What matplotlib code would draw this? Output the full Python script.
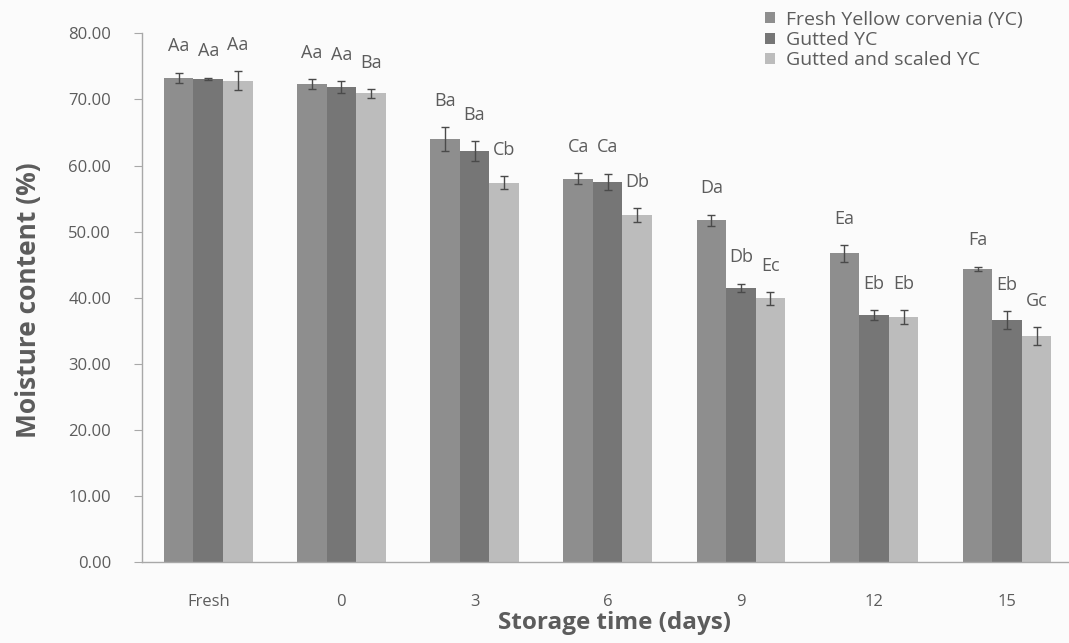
import matplotlib
matplotlib.use("Agg")
import matplotlib.pyplot as plt
import numpy as np

plt.rcParams['font.family'] = ['Open Sans', 'DejaVu Sans']

# storage time categories
days = ['Fresh', '0', '3', '6', '9', '12', '15']
series = ['Fresh Yellow corvenia (YC)', 'Gutted YC', 'Gutted and scaled YC']

# moisture content (%) and standard deviations
fresh_yc = [73.3, 72.3, 64.0, 58.0, 51.7, 46.7, 44.4]
gutted_yc = [73.1, 71.9, 62.2, 57.5, 41.5, 37.4, 36.6]
scaled_yc = [72.8, 70.9, 57.4, 52.5, 39.9, 37.1, 34.2]

fresh_sd = [0.76, 0.76, 1.76, 0.86, 0.88, 1.24, 0.30]
gutted_sd = [0.20, 0.86, 1.46, 1.26, 0.63, 0.76, 1.33]
scaled_sd = [1.44, 0.68, 0.98, 1.06, 0.94, 1.01, 1.33]

# significance letters
fresh_lbl = ['Aa', 'Aa', 'Ba', 'Ca', 'Da', 'Ea', 'Fa']
gutted_lbl = ['Aa', 'Aa', 'Ba', 'Ca', 'Db', 'Eb', 'Eb']
scaled_lbl = ['Aa', 'Ba', 'Cb', 'Db', 'Ec', 'Eb', 'Gc']

W, H = 1069, 643
fig = plt.figure(figsize=(W / 100, H / 100), dpi=100, facecolor='#fbfbfb')
ax = fig.add_axes([141.7 / W, (H - 562.3) / H, 932 / W, 529 / H])
ax.set_facecolor('#fbfbfb')

colors = ['#8e8e8e', '#767676', '#bcbcbc']
text_c = '#5c5c5c'
x = np.arange(len(days))
bw = 0.222

vals = [fresh_yc, gutted_yc, scaled_yc]
sds = [fresh_sd, gutted_sd, scaled_sd]
lbls = [fresh_lbl, gutted_lbl, scaled_lbl]

for i in range(3):
    xs = x + (i - 1) * bw
    ax.bar(xs, vals[i], bw, color=colors[i], label=series[i], zorder=2)
    ax.errorbar(xs, vals[i], yerr=sds[i], fmt='none', ecolor='#4a4a4a',
                elinewidth=1, capsize=3, capthick=1, zorder=3)
    for xi, v, s, t in zip(xs, vals[i], sds[i], lbls[i]):
        ax.annotate(t, (xi, v + s), xytext=(0, 19), textcoords='offset points',
                    ha='center', va='center', fontsize=13, color=text_c)

ax.set_xlim(-0.5, 6.5)
ax.set_ylim(0, 80)
ax.set_yticks(np.arange(0, 81, 10))
ax.set_yticklabels([f'{t:.2f}' for t in range(0, 81, 10)])
ax.set_xticks(x)
ax.set_xticklabels(days)

for s in ['top', 'right']:
    ax.spines[s].set_visible(False)
for s in ['left', 'bottom']:
    ax.spines[s].set_color('#a8a8a8')
    ax.spines[s].set_linewidth(1)

ax.tick_params(axis='y', length=6, color='#a8a8a8', labelsize=12,
               labelcolor=text_c, pad=16)
ax.tick_params(axis='x', length=0, labelsize=12, labelcolor=text_c, pad=23)

ax.set_ylabel('Moisture content (%)', fontsize=19, fontweight='bold',
              color=text_c)
ax.yaxis.set_label_coords(-0.107, 0.496)
ax.set_xlabel('Storage time (days)', fontsize=17.5, fontweight='bold',
              color=text_c)
ax.xaxis.set_label_coords(0.507, -0.093)

fig.legend(loc='upper left', bbox_to_anchor=(757 / W, 1 - 3 / H),
           frameon=False, fontsize=14, labelcolor=text_c,
           handlelength=0.5, handleheight=0.5, handletextpad=0.6,
           labelspacing=0.12, borderaxespad=0)

fig.savefig('out.png', dpi=100, facecolor=fig.get_facecolor())
